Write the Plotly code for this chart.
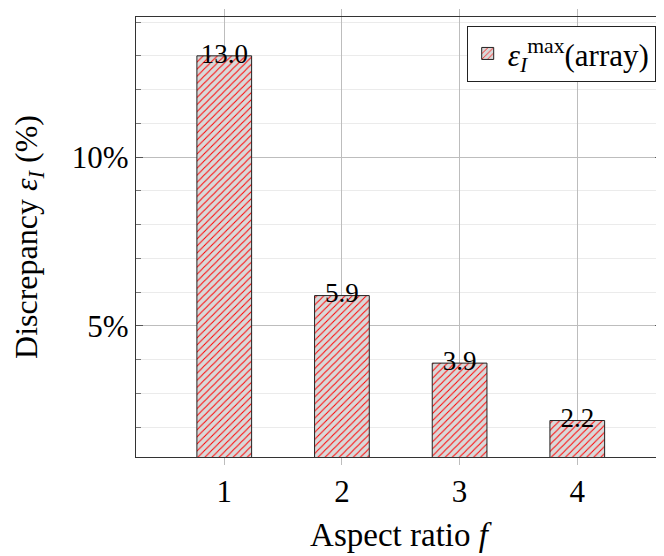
import plotly.graph_objects as go

categories = [1, 2, 3, 4]
values = [13.0, 5.9, 3.9, 2.2]
labels = ["13.0", "5.9", "3.9", "2.2"]
y_ticks = [5, 10]
y_tick_text = ["5%", "10%"]

FONT = "Liberation Serif"

fig = go.Figure()
fig.add_trace(go.Bar(
    x=categories, y=values, width=0.465,
    marker=dict(color="#d9d9d9",
                line=dict(color="#222222", width=1),
                pattern=dict(shape="/", fgcolor="#ff0000", bgcolor="#d9d9d9",
                             fgopacity=1, size=5, solidity=0.2)),
    name="<i>ε</i><sub><i>I</i></sub><sup>max</sup>(array)",
    showlegend=True,
))
fig.add_trace(go.Scatter(
    x=categories, y=values, mode="text", text=labels,
    textposition="middle center",
    textfont=dict(family=FONT, size=27, color="black"),
    showlegend=False, hoverinfo="skip",
))

fig.update_layout(
    width=656, height=548,
    margin=dict(l=126, r=1, t=6, b=99),
    plot_bgcolor="white", paper_bgcolor="white",
    font=dict(family=FONT, size=28, color="black"),
    legend=dict(x=0.988, y=0.98, xanchor="right", yanchor="top",
                bordercolor="#222222", borderwidth=1, bgcolor="white",
                font=dict(size=31), itemwidth=30),
    xaxis=dict(range=[0.25, 4.72], tickvals=categories,
               showgrid=True, gridcolor="#bdbdbd", gridwidth=1,
               ticks="outside", ticklen=7, tickcolor="#bdbdbd",
               showline=True, linecolor="#333333", linewidth=1.2, mirror="ticks",
               zeroline=False,
               title=dict(text="Aspect ratio <i>f</i>", standoff=14,
                          font=dict(size=33)),
               tickfont=dict(size=31)),
    yaxis=dict(range=[1.12, 14.15], tickvals=y_ticks, ticktext=y_tick_text,
               showgrid=True, gridcolor="#bdbdbd", gridwidth=1,
               ticks="inside", ticklen=7, tickcolor="#555555",
               showline=True, linecolor="#333333", linewidth=1.2, mirror="ticks",
               zeroline=False,
               minor=dict(dtick=1, tick0=0, showgrid=True, gridcolor="#ebebeb",
                          ticks="inside", ticklen=5, tickcolor="#777777"),
               title=dict(text="Discrepancy <i>ε<sub>I</sub></i> (%)", standoff=40,
                          font=dict(size=32)),
               tickfont=dict(size=31)),
)

fig.write_html("out.html")
